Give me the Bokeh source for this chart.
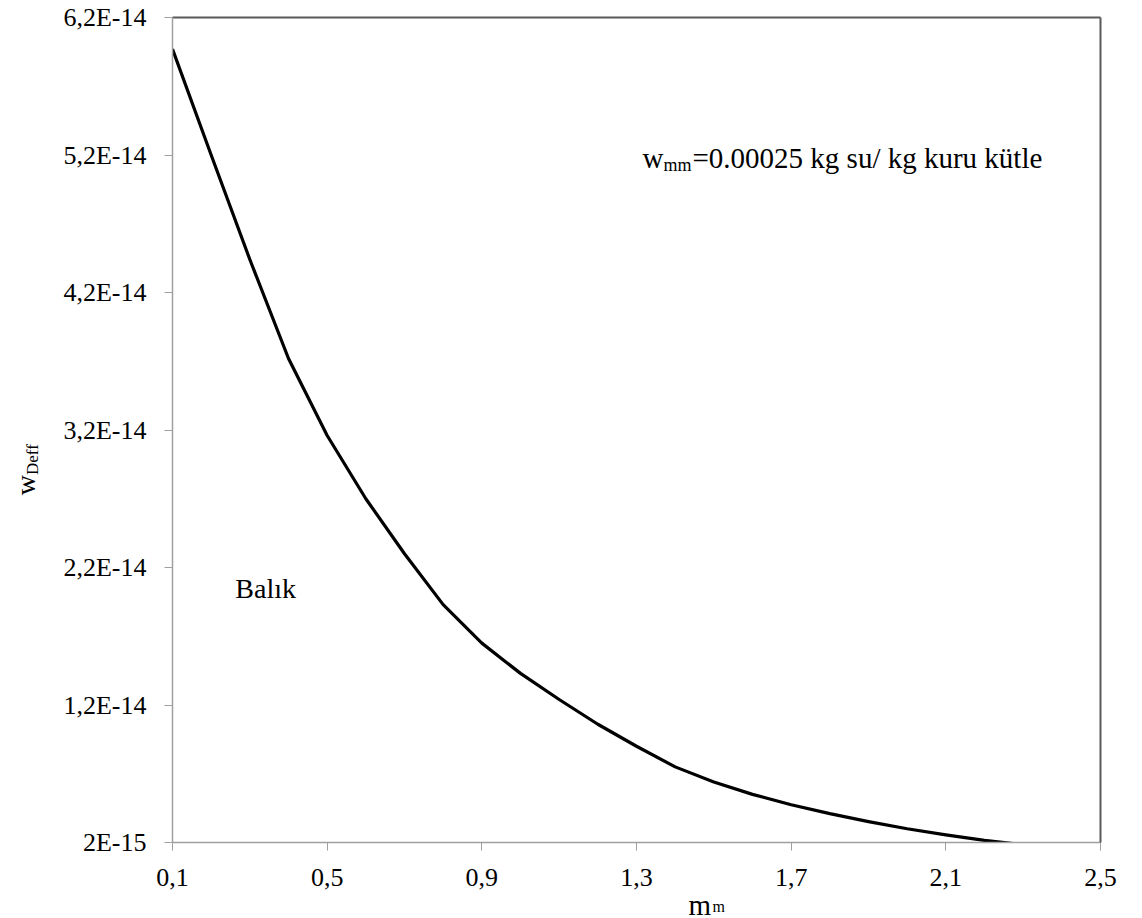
from math import pi
from bokeh.plotting import figure
from bokeh.layouts import column, row
from bokeh.models import (LinearAxis, FixedTicker, CustomJSTickFormatter, Label,
                          Range1d)
from bokeh.embed import file_html
from bokeh.resources import INLINE

# ---- data ----
m_m = [0.1, 0.2, 0.3, 0.4, 0.5, 0.6, 0.7, 0.8, 0.9, 1.0, 1.1, 1.2,
       1.3, 1.4, 1.5, 1.6, 1.7, 1.8, 1.9, 2.0, 2.1, 2.2, 2.3]
w_deff = [5.97e-14, 5.20e-14, 4.44e-14, 3.72e-14, 3.16e-14, 2.70e-14,
          2.30e-14, 1.93e-14, 1.65e-14, 1.43e-14, 1.24e-14, 1.06e-14,
          9.0e-15, 7.5e-15, 6.4e-15, 5.5e-15, 4.75e-15, 4.1e-15,
          3.52e-15, 3.0e-15, 2.55e-15, 2.15e-15, 1.85e-15]

x_ticks = [0.1, 0.5, 0.9, 1.3, 1.7, 2.1, 2.5]
x_tick_labels = ["0,1", "0,5", "0,9", "1,3", "1,7", "2,1", "2,5"]
y_ticks = [2e-15, 1.2e-14, 2.2e-14, 3.2e-14, 4.2e-14, 5.2e-14, 6.2e-14]
y_tick_labels = ["2E-15", "1,2E-14", "2,2E-14", "3,2E-14", "4,2E-14",
                 "5,2E-14", "6,2E-14"]

FONT = "Liberation Serif"
YW = 40      # width of the strip holding the y-axis title
MAIN_H = 898
XH = 20      # height of the strip holding the x-axis title

# ---- main chart ----
p = figure(width=1142 - YW, height=MAIN_H, output_backend="svg", toolbar_location=None,
           title=None,
           x_range=Range1d(0.1, 2.5), y_range=Range1d(2e-15, 6.2e-14),
           min_border_left=172 - YW, min_border_right=42, min_border_top=17,
           min_border_bottom=MAIN_H - 17 - 825, outline_line_color=None,
           background_fill_color="white", border_fill_color="white")
p.grid.visible = False

p.line(m_m, w_deff, line_color="black", line_width=3.2, line_join="round")

code = """
let best = 0; let d = Infinity;
for (let i = 0; i < tvals.length; i++) {
  const dd = Math.abs(tvals[i] - tick);
  if (dd < d) { d = dd; best = i; }
}
return tlabels[best];
"""

for ax, tv, tl in ((p.xaxis[0], x_ticks, x_tick_labels),
                   (p.yaxis[0], y_ticks, y_tick_labels)):
    ax.ticker = FixedTicker(ticks=tv)
    ax.formatter = CustomJSTickFormatter(args=dict(tvals=tv, tlabels=tl), code=code)
    ax.minor_tick_line_color = None
    ax.major_tick_out = 8
    ax.major_tick_in = 0
    ax.major_tick_line_color = "#a0a0a0"
    ax.axis_line_color = "#a0a0a0"
    ax.axis_line_width = 1.5
    ax.major_label_text_font = FONT
    ax.major_label_text_font_size = "26px"
    ax.major_label_text_color = "black"
p.xaxis[0].major_label_standoff = 18
p.yaxis[0].major_label_standoff = 18

# top and right frame lines
for loc in ("above", "right"):
    ax = LinearAxis(ticker=FixedTicker(ticks=[]), axis_line_color="#595959",
                    axis_line_width=2, major_tick_line_color=None,
                    minor_tick_line_color=None, major_label_text_font_size="0px")
    p.add_layout(ax, loc)

# annotations inside the plot
ann_x = 1.3155
ann_y = 5.175e-14
p.add_layout(Label(x=ann_x, y=ann_y, text="w", text_font=FONT, text_font_size="29px",
                   text_color="black", text_baseline="alphabetic", text_align="left"))
p.add_layout(Label(x=ann_x, y=ann_y, x_offset=21, y_offset=-7, text="mm",
                   text_font=FONT, text_font_size="18px", text_color="black",
                   text_baseline="alphabetic", text_align="left"))
p.add_layout(Label(x=ann_x, y=ann_y, x_offset=50, text="=0.00025 kg su/ kg kuru kütle",
                   text_font=FONT, text_font_size="29px", text_color="black",
                   text_baseline="alphabetic", text_align="left"))
p.add_layout(Label(x=0.2626, y=2.05e-14, text="Balık", text_font=FONT,
                   text_font_size="28px", text_color="black",
                   text_baseline="alphabetic", text_align="left"))

# ---- strip for the y-axis title (w_Deff) ----
yf = figure(width=YW, height=MAIN_H, output_backend="svg", toolbar_location=None,
            title=None,
            x_range=Range1d(0, YW), y_range=Range1d(0, MAIN_H),
            x_axis_location=None, y_axis_location=None, min_border=0,
            outline_line_color=None, background_fill_color="white",
            border_fill_color="white")
yf.grid.visible = False
yf.add_layout(Label(x=25, y=MAIN_H - 520, angle=pi/2, text="w", text_font=FONT,
                    text_font_size="28px", text_color="black",
                    text_baseline="alphabetic", text_align="left"))
yf.add_layout(Label(x=32, y=MAIN_H - 498, angle=pi/2, text="Deff", text_font=FONT,
                    text_font_size="17px", text_color="black",
                    text_baseline="alphabetic", text_align="left"))

# ---- strip for the x-axis title (m_m) ----
xf = figure(width=1142, height=XH, output_backend="svg", toolbar_location=None,
            title=None,
            x_range=Range1d(0, 1142), y_range=Range1d(0, XH),
            x_axis_location=None, y_axis_location=None, min_border=0,
            outline_line_color=None, background_fill_color="white",
            border_fill_color="white")
xf.grid.visible = False
xf.add_layout(Label(x=688, y=14, text="m", text_font=FONT, text_font_size="29px",
                    text_color="black", text_baseline="alphabetic", text_align="left"))
xf.add_layout(Label(x=712, y=12, text="m", text_font=FONT, text_font_size="16px",
                    text_color="black", text_baseline="alphabetic", text_align="left"))

layout = column(row(yf, p, spacing=0), xf, spacing=0)

open("out.html", "w").write(file_html(layout, INLINE))
